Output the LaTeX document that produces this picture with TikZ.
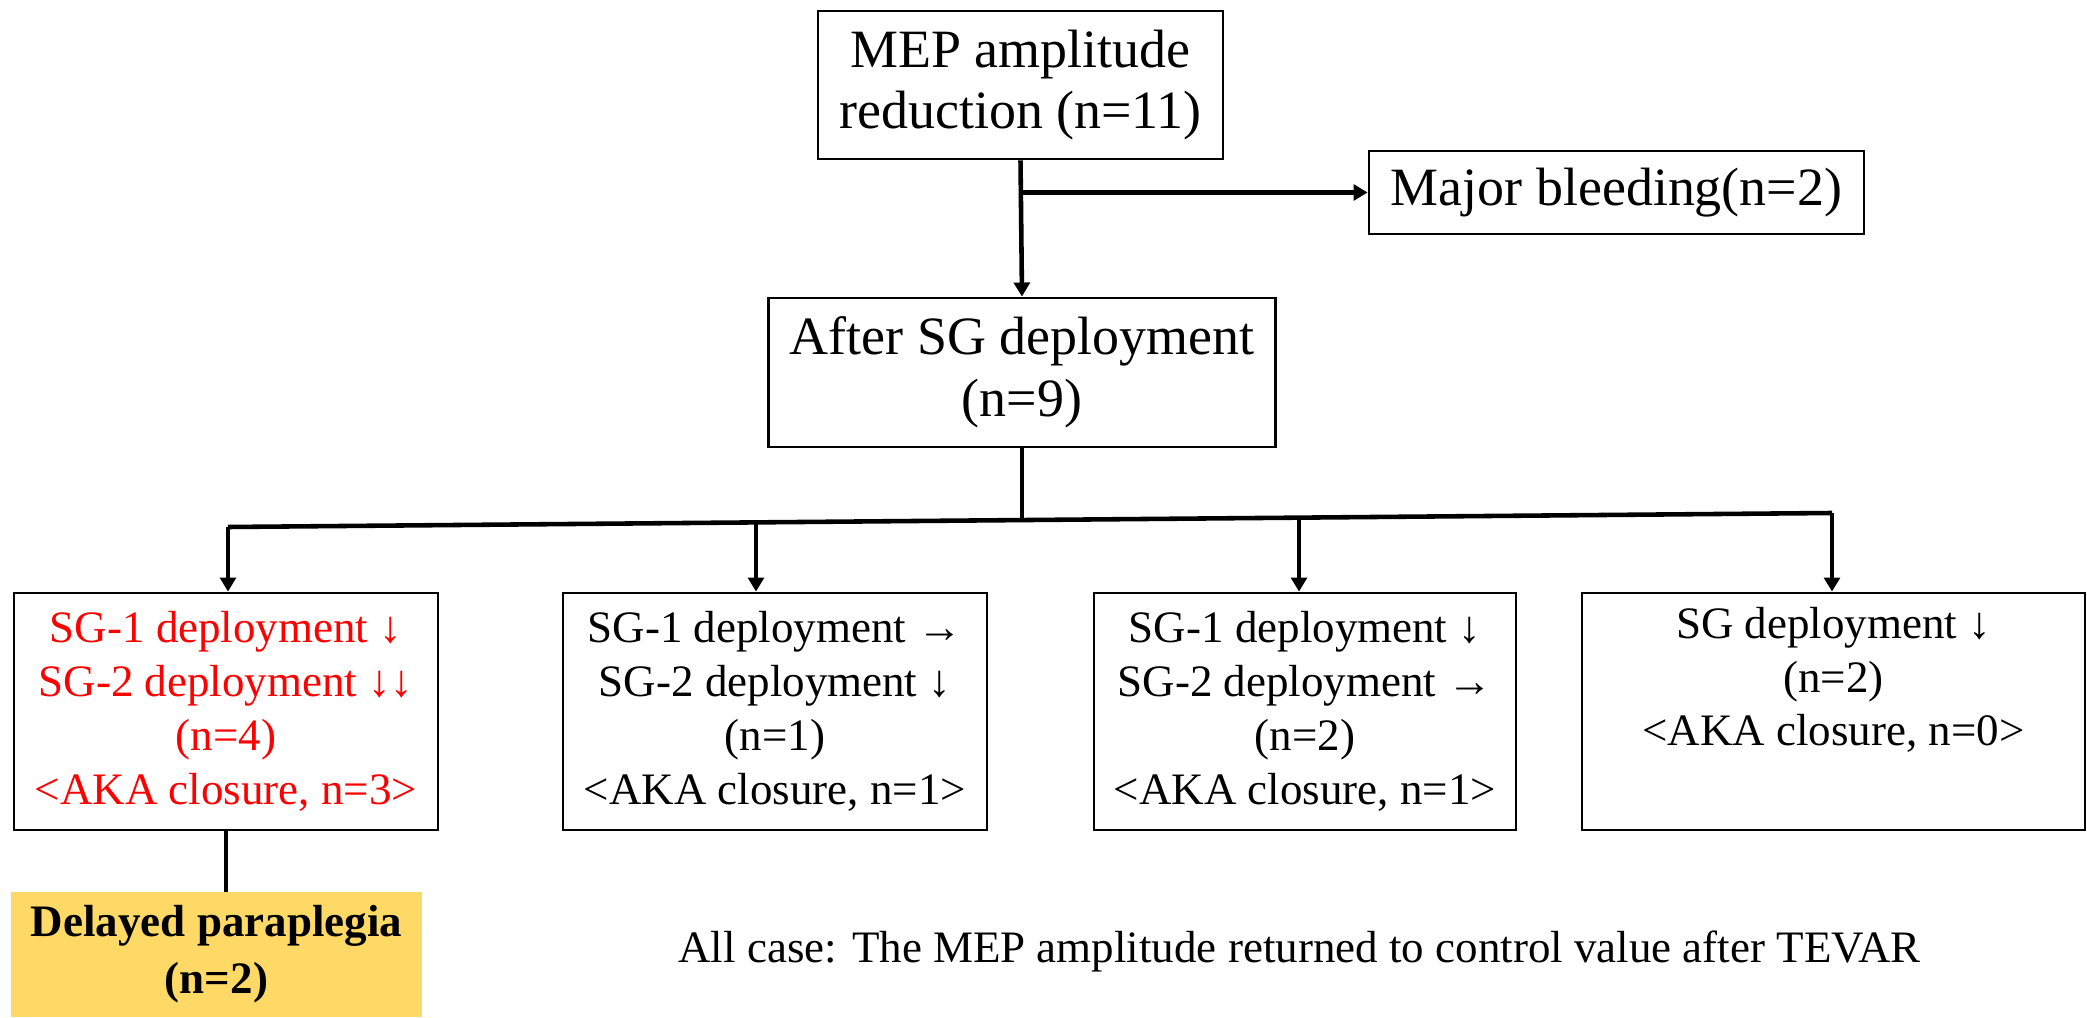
\documentclass[tikz,border=0pt]{standalone}
\usepackage{fontspec}
\setmainfont{Liberation Serif}
\usetikzlibrary{arrows.meta}
\definecolor{paragold}{HTML}{FFD966}

\begin{document}
\begin{tikzpicture}[
  box/.style={draw, line width=1.6pt, align=center, inner sep=0pt},
  bigtxt/.style={font=\fontsize{30.7}{35}\selectfont},
  smalltxt/.style={font=\fontsize{25.6}{30.7}\selectfont},
  link/.style={line width=2.6pt},
  arr/.style={link, -{Triangle[length=8pt,width=9pt]}}
]
\useasboundingbox (0,0) rectangle (41.74,20.34);
% upper part
\node[box, bigtxt, minimum width=8.1cm, minimum height=2.96cm] (mep) at (20.41,18.64)
  {MEP amplitude\\reduction (n=11)};
\node[box, bigtxt, minimum width=9.9cm, minimum height=1.66cm] (bleed) at (32.33,16.49)
  {Major bleeding(n=2)};
\node[box, bigtxt, minimum width=10.14cm, minimum height=2.98cm] (after) at (20.44,12.89)
  {After SG deployment\\(n=9)};
\draw[arr] (mep.south) -- (after.north);
\draw[arr] (mep.south |- bleed.west) -- (bleed.west);
% groups
\node[box, smalltxt, text=red, minimum width=8.48cm, minimum height=4.74cm] (grpa) at (4.52,6.11)
  {SG-1 deployment ↓\\SG-2 deployment ↓↓\\(n=4)\\<AKA closure, n=3>};
\node[box, smalltxt, minimum width=8.48cm, minimum height=4.74cm] (grpb) at (15.5,6.11)
  {SG-1 deployment →\\SG-2 deployment ↓\\(n=1)\\<AKA closure, n=1>};
\node[box, smalltxt, minimum width=8.44cm, minimum height=4.74cm] (grpc) at (26.1,6.11)
  {SG-1 deployment ↓\\SG-2 deployment →\\(n=2)\\<AKA closure, n=1>};
\node[box, smalltxt, minimum width=10.06cm, minimum height=4.74cm] (grpd) at (36.67,6.11)
  {SG deployment ↓\\(n=2)\\<AKA closure, n=0>\\\strut};
% split bar
\coordinate (ja) at (4.56,9.80);
\coordinate (jb) at (15.12,9.89);
\coordinate (jm) at (20.44,9.94);
\coordinate (jc) at (25.98,9.99);
\coordinate (jd) at (36.64,10.08);
\draw[link] (after.south) -- (jm);
\draw[link] (ja) -- (jd);
\draw[arr] (ja) -- (ja |- grpa.north);
\draw[arr] (jb) -- (jb |- grpb.north);
\draw[arr] (jc) -- (jc |- grpc.north);
\draw[arr] (jd) -- (jd |- grpd.north);
% outcome
\node[fill=paragold, align=center, inner sep=0pt, minimum width=8.22cm, minimum height=2.5cm,
  font=\fontsize{25.6}{32.4}\selectfont\bfseries] (para) at (4.33,1.25)
  {Delayed paraplegia\\(n=2)};
\draw[link] (grpa.south) -- (grpa.south |- para.north);
\node[smalltxt, anchor=base] (note) at (25.99,1.1)
  {All case: The MEP amplitude returned to control value after TEVAR};
\end{tikzpicture}
\end{document}
